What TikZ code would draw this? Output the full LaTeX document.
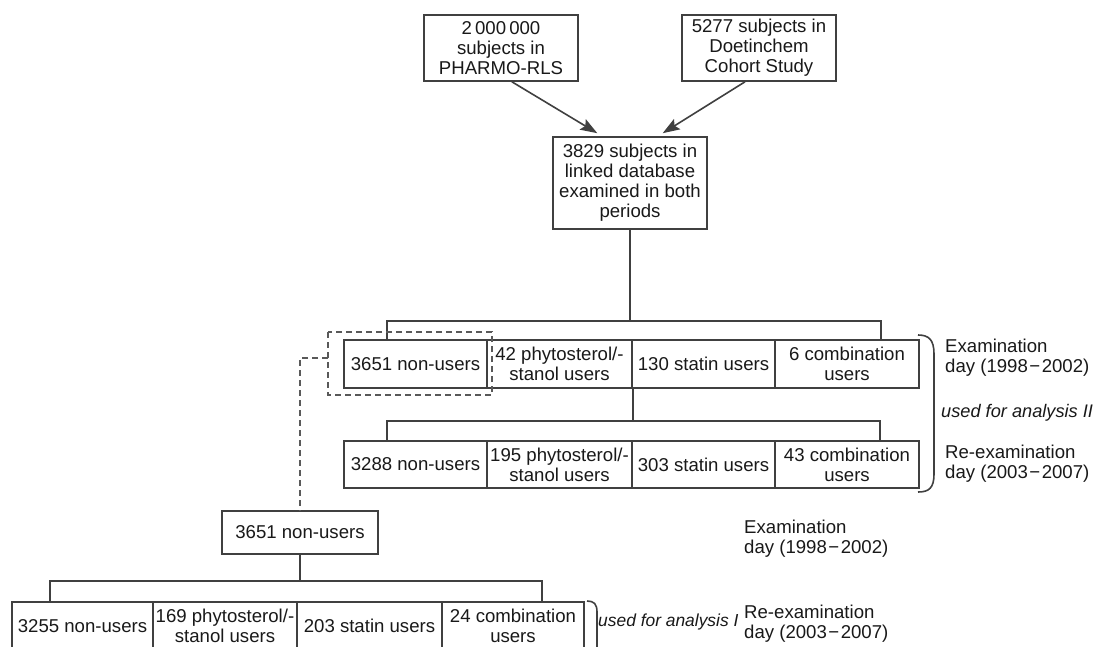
\documentclass[tikz,border=0pt]{standalone}
\usepackage{fontspec}
\setmainfont{Liberation Sans}
\usetikzlibrary{arrows.meta,calc}
\newcommand{\yrs}[2]{#1\kern1.5pt−\kern1.5pt#2}
\begin{document}
\begin{tikzpicture}[x=1pt,y=1pt,
  every node/.style={font=\fontsize{18.6}{20}\selectfont, text=black!90},
  box/.style={draw=black!75, line width=1.6pt, align=center, inner sep=0pt},
  ln/.style={draw=black!75, line width=1.6pt},
  dsh/.style={draw=black!65, line width=1.5pt, dash pattern=on 6pt off 4pt},
  arr/.style={ln, -{Stealth[length=17pt,width=12pt,inset=3pt]}},
  lbl/.style={align=left, inner sep=0pt, anchor=west},
  itl/.style={lbl, font=\fontsize{18.2}{20}\selectfont\itshape},
]
\clip (0,0) rectangle (1097,-647);
\fill[white] (0,0) rectangle (1097,-647);

% top boxes
\node[box, minimum width=154pt, minimum height=66pt] (A) at (501,-48) {2\,000\,000\\subjects in\\PHARMO-RLS};
\node[box, minimum width=154pt, minimum height=66pt] (B) at (759,-48) {5277 subjects in\\Doetinchem\\Cohort Study};
\node[box, minimum width=154pt, minimum height=92pt] (C) at (630,-183) {3829 subjects in\\linked database\\examined in both\\periods};

\draw[arr] ($(A.south west)!0.57!(A.south east)$) -- ($(C.north west)!0.29!(C.north east)+(0,3)$);
\draw[arr] ($(B.south west)!0.41!(B.south east)$) -- ($(C.north west)!0.71!(C.north east)+(0,3)$);

% row 1 (examination)
\node[box, minimum width=143pt, minimum height=48pt] (e1) at (415.5,-364) {3651 non-users};
\node[box, minimum width=145pt, minimum height=48pt] (e2) at (559.5,-364) {42 phytosterol/-\\stanol users};
\node[box, minimum width=143pt, minimum height=48pt] (e3) at (703.5,-364) {130 statin users};
\node[box, minimum width=144pt, minimum height=48pt] (e4) at (847,-364) {6 combination\\users};

% row 2 (re-examination)
\node[box, minimum width=143pt, minimum height=47pt] (r1) at (415.5,-464.5) {3288 non-users};
\node[box, minimum width=145pt, minimum height=47pt] (r2) at (559.5,-464.5) {195 phytosterol/-\\stanol users};
\node[box, minimum width=143pt, minimum height=47pt] (r3) at (703.5,-464.5) {303 statin users};
\node[box, minimum width=144pt, minimum height=47pt] (r4) at (847,-464.5) {43 combination\\users};

% connectors C -> row 1
\coordinate (b1) at ($(C.south)+(0,-91)$);
\coordinate (e1t) at ($(e1.north west)+(44,0)$);
\coordinate (e4t) at ($(e4.north west)+(107,0)$);
\draw[ln] (C.south) -- (b1);
\draw[ln] (e1t) |- (b1) -| (e4t);

% row 1 -> row 2
\coordinate (b2) at ($(e2.south east)+(0,-32)$);
\coordinate (r1t) at ($(r1.north west)+(44,0)$);
\coordinate (r4t) at ($(r4.north west)+(106,0)$);
\draw[ln] (e2.south east) -- (b2);
\draw[ln] (r1t) |- (b2) -| (r4t);

% dashed selection
\draw[dsh] (328,-332) rectangle (492,-395);
\coordinate (dl) at (328,-358);

% lower branch
\node[box, minimum width=156pt, minimum height=43pt] (L) at (300,-532.5) {3651 non-users};
\draw[dsh] (dl) -| (L.north);

\node[box, minimum width=141pt, minimum height=48pt] (f1) at (82.5,-626) {3255 non-users};
\node[box, minimum width=144pt, minimum height=48pt] (f2) at (225,-626) {169 phytosterol/-\\stanol users};
\node[box, minimum width=145pt, minimum height=48pt] (f3) at (369.5,-626) {203 statin users};
\node[box, minimum width=142pt, minimum height=48pt] (f4) at (513,-626) {24 combination\\users};

\coordinate (b3) at ($(L.south)+(0,-26)$);
\coordinate (f1t) at ($(f1.north west)+(39,0)$);
\coordinate (f4t) at ($(f4.north west)+(101,0)$);
\draw[ln] (L.south) -- (b3);
\draw[ln] (f1t) |- (b3) -| (f4t);

% brackets
\draw[ln] (918,-335) .. controls (929,-335) and (934,-340) .. (934,-354) -- (934,-474) .. controls (934,-488) and (929,-492) .. (918,-492);
\draw[ln] (587,-601) .. controls (594,-601) and (597,-604) .. (597,-612) -- (597,-660);

% labels
\node[lbl] (x1) at (945,-358) {Examination\\day (\yrs{1998}{2002})};
\node[itl] (u2) at (941,-413) {used for analysis II};
\node[lbl] (y1) at (945,-463.5) {Re-examination\\day (\yrs{2003}{2007})};
\node[lbl] (x2) at (744,-539) {Examination\\day (\yrs{1998}{2002})};
\node[itl, font=\fontsize{17.4}{20}\selectfont\itshape] (u1) at (598,-622) {used for analysis I};
\node[lbl] (y2) at (744,-624) {Re-examination\\day (\yrs{2003}{2007})};
\end{tikzpicture}
\end{document}
